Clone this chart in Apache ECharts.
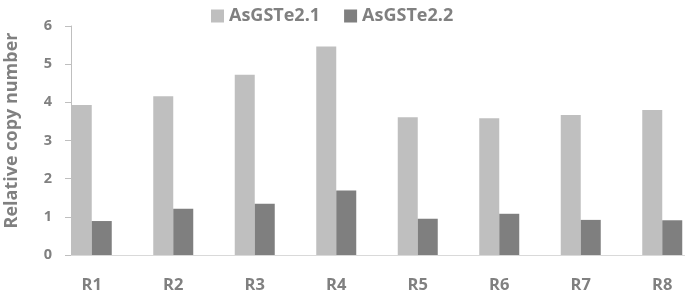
<!DOCTYPE html>
<html>
<head>
<meta charset="utf-8">
<script src="https://cdn.jsdelivr.net/npm/echarts@6/dist/echarts.min.js"></script>
<style>html,body{margin:0;padding:0;background:#fff}#c{width:685px;height:294px}</style>
</head>
<body>
<div id="c"></div>
<script>
const categories = ['R1','R2','R3','R4','R5','R6','R7','R8'];
const seriesNames = ['AsGSTe2.1','AsGSTe2.2'];
const valuesA = [3.93, 4.16, 4.72, 5.46, 3.61, 3.58, 3.67, 3.80];
const valuesB = [0.89, 1.21, 1.34, 1.69, 0.95, 1.08, 0.92, 0.91];
const yTicks = [0, 1, 2, 3, 4, 5, 6];

const FONT = '"Open Sans"';
const TXT = '#808080';
const chart = echarts.init(document.getElementById('c'), null, {renderer: 'canvas'});
chart.setOption({
  animation: false,
  backgroundColor: '#ffffff',
  legend: {
    top: 2, left: 206,
    itemWidth: 13, itemHeight: 13, itemGap: 24,
    icon: 'rect',
    textStyle: {color: TXT, fontFamily: FONT, fontWeight: 'bold', fontSize: 18},
    data: seriesNames
  },
  grid: [
    {left: 51, width: 652, top: 26, bottom: 39, containLabel: false, outerBoundsMode: 'none'},
    {left: 71, right: 0, top: 26, bottom: 39, containLabel: false, outerBoundsMode: 'none'}
  ],
  xAxis: [
    {
      type: 'category', gridIndex: 0, data: categories,
      axisLine: {show: false}, axisTick: {show: false},
      axisLabel: {color: TXT, fontFamily: FONT, fontWeight: 'bold', fontSize: 16.5, margin: 22}
    },
    {
      type: 'value', gridIndex: 1, min: 0, max: 1,
      axisLine: {show: true, lineStyle: {color: '#d9d9d9', width: 1}},
      axisTick: {show: false}, axisLabel: {show: false}, splitLine: {show: false}
    }
  ],
  yAxis: [
    {
      type: 'value', gridIndex: 0, min: yTicks[0], max: yTicks[yTicks.length - 1], interval: 1,
      offset: -20,
      name: 'Relative copy number', nameLocation: 'middle', nameGap: 50,
      nameTextStyle: {color: TXT, fontFamily: FONT, fontWeight: 'bold', fontSize: 18, padding: [0, 0, 0, 20]},
      axisLine: {show: true, lineStyle: {color: '#bfbfbf', width: 1}},
      axisTick: {show: true, length: 6, lineStyle: {color: '#bfbfbf'}},
      axisLabel: {color: TXT, fontFamily: FONT, fontWeight: 'bold', fontSize: 14.5, margin: 19},
      splitLine: {show: false}
    },
    {type: 'value', gridIndex: 1, show: false, min: 0, max: 1}
  ],
  series: [
    {name: seriesNames[0], type: 'bar', data: valuesA, barWidth: 20, barGap: '0%',
     itemStyle: {color: '#bfbfbf'}},
    {name: seriesNames[1], type: 'bar', data: valuesB, barWidth: 20, barGap: '0%',
     itemStyle: {color: '#7f7f7f'}}
  ]
});
</script>
</body>
</html>
